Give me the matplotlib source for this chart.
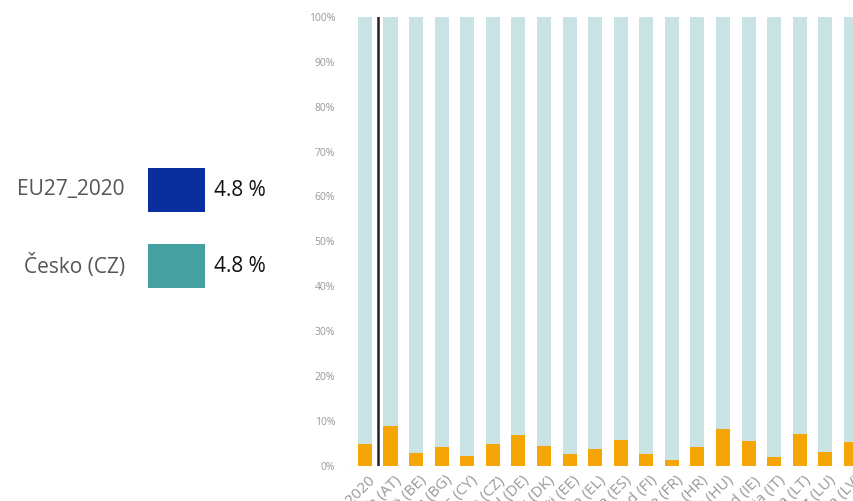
import numpy as np
import matplotlib.pyplot as plt
from matplotlib.patches import Rectangle

plt.rcParams['font.family'] = ['Open Sans', 'DejaVu Sans']

# country share (%) of the indicator, EU average first
countries = ['EU27_2020', 'Österreich (AT)', 'Belgique/België (BE)', 'България (BG)',
             'Kýpros (CY)', 'Česko (CZ)', 'Deutschland (DE)', 'Danmark (DK)',
             'Eesti (EE)', 'Elláda (EL)', 'España (ES)', 'Suomi/Finland (FI)',
             'France (FR)', 'Hrvatska (HR)', 'Magyarország (HU)', 'Éire/Ireland (IE)',
             'Italia (IT)', 'Lietuva (LT)', 'Luxembourg (LU)', 'Latvija (LV)']
values = [4.8, 8.9, 2.9, 4.1, 2.2, 4.8, 6.9, 4.3, 2.5, 3.7,
          5.8, 2.7, 1.2, 4.2, 8.2, 5.4, 2.0, 7.0, 3.1, 5.3]

legend_names = ['EU27_2020', 'Česko (CZ)']
legend_values = [4.8, 4.8]
legend_colors = ['#0b2e9e', '#45a1a1']

W, H = 854, 501
fig = plt.figure(figsize=(W / 100, H / 100), dpi=100)

# stacked bars: share in orange, remainder to 100% in pale teal
ax = fig.add_axes([345 / W, (H - 465.7) / H, 1 - 345 / W, (465.7 - 17) / H])
x = np.arange(len(countries))
vals = np.array(values)
ax.bar(x, vals, width=0.55, color='#f5a505', zorder=2)
ax.bar(x, 100 - vals, bottom=vals, width=0.55, color='#c9e2e3', zorder=2)
ax.axvline(0.5, color='#222222', lw=1.8, zorder=3)
ax.axhline(0, color='#dde6f0', lw=1, zorder=1)

ax.set_xlim(-0.78, 19.06)
ax.set_ylim(0, 100)
ax.set_yticks(np.arange(0, 101, 10))
ax.set_yticklabels([f'{v}%' for v in range(0, 101, 10)], fontsize=7.5, color='#999999')
ax.set_xticks(x + 0.12)
ax.set_xticklabels(countries, rotation=45, ha='right', va='top',
                   rotation_mode='anchor', fontsize=11, color='#999999')
ax.tick_params(length=0, axis='y', pad=7)
ax.tick_params(length=0, axis='x', pad=5)
for s in ax.spines.values():
    s.set_visible(False)

# left-hand legend with values
lax = fig.add_axes([0, 0, 345 / W, 1])
lax.set_xlim(0, 345)
lax.set_ylim(H, 0)
lax.axis('off')
for i, (name, val, col) in enumerate(zip(legend_names, legend_values, legend_colors)):
    yc = 190 + i * 76
    lax.text(125, yc, name, ha='right', va='center', fontsize=15, color='#555555')
    lax.add_patch(Rectangle((148, yc - 22), 57, 44, facecolor=col, edgecolor='none'))
    lax.text(214, yc, f'{val} %', ha='left', va='center', fontsize=15,
             color='#111111')

fig.savefig('out.png', dpi=100)
